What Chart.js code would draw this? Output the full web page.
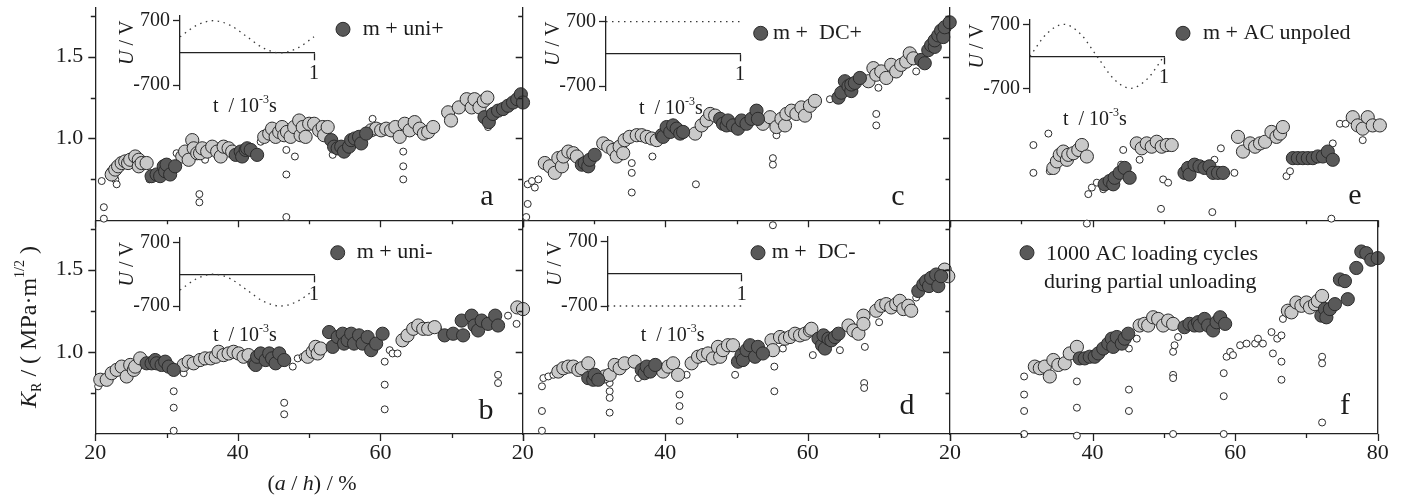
<!DOCTYPE html>
<html><head><meta charset="utf-8">
<script src="https://cdn.jsdelivr.net/npm/chart.js@4.4.1/dist/chart.umd.min.js"></script>
<style>
html,body{margin:0;padding:0;background:#fff;width:1404px;height:498px;overflow:hidden;position:relative;}
canvas{position:absolute;}
</style></head><body>
<script>
// ---------------- DATA (a/h in %, K_R in MPa·m^1/2) ----------------
const aOpen=[[20.9,0.74],[21.2,0.58],[21.2,0.51],[22.1,0.80],[22.8,0.75],[23.0,0.72],[27.6,0.75],[31.4,0.91],[34.6,0.66],[34.6,0.61],[35.4,0.87],[43.2,0.98],[46.8,0.93],[48.0,0.89],[46.8,0.78],[46.8,0.52],[53.3,0.90],[58.9,1.12],[63.2,0.92],[63.2,0.83],[63.2,0.75],[75.1,1.07]];
const aLight=[[22.3,0.78],[22.8,0.81],[23.2,0.83],[23.7,0.85],[24.2,0.86],[24.6,0.85],[24.9,0.87],[25.6,0.89],[26.1,0.87],[26.1,0.83],[26.5,0.85],[27.2,0.85],
[32.2,0.89],[32.6,0.92],[33.1,0.87],[33.6,0.99],[33.8,0.94],[34.3,0.91],[34.7,0.91],[35.0,0.94],[35.7,0.92],[36.4,0.95],[37.1,0.92],[37.6,0.89],[38.0,0.95],[38.7,0.94],[39.2,0.92],
[43.7,1.01],[44.4,1.03],[44.8,1.06],[45.3,1.01],[45.8,1.04],[46.2,1.07],[46.5,1.02],[46.9,1.04],[47.4,1.01],[47.9,1.07],[48.6,1.11],[48.8,1.02],[49.1,1.07],[49.5,1.01],[50.0,1.09],[50.7,1.09],[51.4,1.05],[51.9,1.07],[52.1,1.02],[52.6,1.07],
[58.7,1.05],[59.4,1.06],[60.1,1.05],[60.8,1.06],[61.5,1.05],[62.1,1.07],[62.7,1.01],[63.4,1.09],[64.1,1.05],[64.8,1.10],[65.5,1.06],[66.1,1.03],[66.7,1.04],[67.4,1.07],
[69.5,1.16],[69.9,1.11],[71.0,1.19],[72.1,1.24],[72.8,1.19],[73.2,1.24],[73.9,1.19],[74.5,1.23],[75.0,1.25]];
const aDark=[[27.9,0.77],[28.6,0.78],[29.1,0.77],[29.6,0.83],[29.8,0.80],[30.0,0.84],[30.5,0.78],[31.2,0.83],
[39.7,0.90],[40.4,0.92],[40.6,0.89],[41.1,0.93],[41.3,0.94],[41.8,0.93],[42.7,0.90],
[53.1,0.99],[53.5,0.95],[54.0,0.94],[54.5,0.95],[54.9,0.92],[55.6,0.95],[55.9,0.99],[56.4,1.00],[57.0,1.01],[57.3,0.97],[58.0,1.03],
[74.6,1.13],[75.2,1.10],[75.8,1.15],[76.5,1.17],[77.2,1.18],[77.9,1.20],[78.6,1.22],[79.2,1.24],[79.7,1.27],[80.0,1.22]];

const bOpen=[[20.4,0.79],[31.0,0.76],[31.0,0.66],[31.0,0.52],[32.4,0.87],[46.5,0.69],[46.5,0.62],[47.7,0.91],[48.4,0.96],[49.1,0.97],[60.6,0.94],[60.6,0.80],[60.6,0.65],[61.3,1.01],[61.7,0.99],[62.4,0.99],[68.1,1.14],[76.5,0.86],[76.5,0.81],[77.9,1.22],[79.1,1.17]];
const bLight=[[20.7,0.83],[21.6,0.83],[22.3,0.87],[23.0,0.89],[23.7,0.91],[24.4,0.85],[24.9,0.92],[25.4,0.89],[25.6,0.91],[26.3,0.96],
[32.4,0.92],[33.1,0.94],[33.8,0.93],[34.7,0.95],[35.4,0.96],[36.2,0.96],[36.9,0.97],[37.3,1.00],[38.0,0.98],[38.7,0.99],[39.4,1.00],[40.1,0.99],[40.8,0.97],[41.5,0.98],
[49.8,0.97],[50.5,1.00],[50.9,1.03],[51.2,0.99],[51.6,1.02],
[63.1,1.07],[63.8,1.10],[64.6,1.14],[65.3,1.16],[66.0,1.14],[66.7,1.14],[67.6,1.15],
[79.2,1.27],[80.0,1.26]];
const bDark=[[27.2,0.93],[27.9,0.93],[28.4,0.95],[28.6,0.93],[29.3,0.92],[29.8,0.94],[30.3,0.91],[31.0,0.89],
[42.3,0.93],[42.5,0.92],[42.7,0.97],[43.2,0.99],[43.9,0.95],[44.4,0.99],[44.8,0.96],[45.3,0.93],[45.8,0.99],[46.5,0.95],
[52.8,1.12],[53.3,1.03],[54.0,1.09],[54.7,1.11],[54.9,1.05],[55.4,1.07],[55.9,1.11],[56.3,1.05],[57.0,1.10],[57.5,1.05],[58.2,1.09],[58.7,1.01],[59.4,1.05],[60.3,1.11],
[69.0,1.10],[70.2,1.11],[71.4,1.19],[71.6,1.10],[72.8,1.22],[73.2,1.16],[73.7,1.13],[74.2,1.19],[75.1,1.17],[76.1,1.22],[76.5,1.16]];

const cOpen=[[20.7,0.72],[20.7,0.60],[20.5,0.52],[21.3,0.74],[21.7,0.70],[22.2,0.75],[35.3,0.85],[35.3,0.79],[35.3,0.67],[38.2,0.89],[44.3,0.72],[55.1,0.88],[55.1,0.84],[55.6,1.02],[63.1,1.24],[69.6,1.15],[69.6,1.08],[69.9,1.31],[75.2,1.41]];
const cLight=[[23.1,0.85],[23.8,0.83],[24.5,0.79],[25.0,0.88],[25.5,0.83],[25.7,0.89],[26.4,0.92],[27.1,0.91],[27.6,0.89],
[31.3,0.97],[32.0,0.95],[32.7,0.93],[33.2,0.89],[33.6,0.95],[34.1,0.91],[34.3,0.99],[35.0,1.01],[36.0,1.02],[36.7,1.02],[37.4,1.01],[38.1,1.00],[38.8,0.99],
[44.2,1.03],[45.1,1.08],[45.8,1.11],[46.3,1.15],[47.0,1.14],
[53.7,1.09],[54.7,1.13],[55.6,1.07],[56.3,1.12],[56.8,1.08],[57.0,1.15],[57.7,1.17],[58.4,1.15],[59.1,1.19],[59.6,1.14],[60.3,1.20],[61.0,1.23],
[68.5,1.35],[69.2,1.43],[69.6,1.39],[70.3,1.41],[71.0,1.37],[71.7,1.45],[72.4,1.41],[73.1,1.45],[73.8,1.47],[74.3,1.52],[74.8,1.49]];
const cDark=[[28.3,0.84],[28.7,0.85],[29.2,0.83],[29.4,0.87],[30.1,0.90],
[39.5,1.02],[39.7,1.01],[40.2,1.07],[40.7,1.04],[41.1,1.08],[41.6,1.06],[42.1,1.03],[42.5,1.04],
[47.7,1.12],[48.1,1.09],[48.6,1.08],[48.8,1.11],[49.5,1.08],[50.2,1.06],[50.7,1.11],[51.4,1.09],[52.1,1.12],[52.8,1.17],[53.0,1.12],
[64.3,1.25],[64.7,1.28],[65.2,1.35],[65.7,1.32],[66.1,1.29],[66.1,1.33],[66.6,1.34],[67.3,1.37],
[75.9,1.48],[76.4,1.46],[76.9,1.54],[77.3,1.57],[77.8,1.56],[77.8,1.60],[78.3,1.63],[78.7,1.66],[79.0,1.62],[79.2,1.68],[79.9,1.71]];

const dOpen=[[22.7,0.79],[22.7,0.64],[22.7,0.52],[22.9,0.84],[23.6,0.85],[24.3,0.86],[32.2,0.81],[32.2,0.76],[32.2,0.72],[32.2,0.63],[36.2,0.84],[42.0,0.74],[42.0,0.67],[42.0,0.58],[43.0,0.86],[49.8,0.86],[55.1,1.77],[55.3,0.91],[55.3,0.76],[56.5,1.02],[60.7,0.98],[64.5,1.01],[68.0,1.03],[67.9,0.81],[67.9,0.78],[70.0,1.18],[75.2,1.33]];
const dLight=[[25.0,0.88],[25.7,0.90],[26.4,0.91],[27.1,0.91],[27.8,0.89],[28.3,0.90],[29.2,0.93],
[31.5,0.85],[32.2,0.86],[32.9,0.92],[33.6,0.90],[34.3,0.93],[35.7,0.94],
[39.7,0.88],[40.4,0.91],[41.1,0.93],[41.8,0.86],[43.7,0.93],[44.6,0.97],[45.3,0.98],[46.0,0.99],[46.7,0.96],[47.4,1.03],[47.7,0.97],[48.1,1.01],[48.8,1.04],[49.5,1.04],
[54.9,1.07],[55.1,1.01],[56.1,1.09],[56.8,1.08],[57.5,1.09],[58.2,1.11],[58.9,1.10],[59.6,1.11],[60.3,1.13],[60.5,1.14],
[65.7,1.16],[66.4,1.13],[67.1,1.11],[67.8,1.22],[67.8,1.17],[69.6,1.25],[70.3,1.28],[71.0,1.29],[71.7,1.27],[72.4,1.29],[72.9,1.31],[73.4,1.26],[74.1,1.28],[74.5,1.25],
[79.2,1.50],[79.7,1.46]];
const dDark=[[29.2,0.84],[29.9,0.83],[30.1,0.86],[30.6,0.83],
[36.7,0.89],[37.1,0.87],[37.4,0.91],[37.9,0.88],[38.6,0.92],
[50.2,0.94],[50.7,0.98],[50.9,0.95],[51.4,1.01],[51.9,1.04],[52.6,0.97],[53.0,1.03],[53.7,0.99],
[61.5,1.08],[62.0,1.04],[62.2,1.10],[62.4,1.02],[62.9,1.08],[63.3,1.07],[63.8,1.09],[64.3,1.11],
[75.5,1.37],[76.2,1.41],[76.6,1.43],[77.0,1.40],[77.3,1.45],[78.0,1.47],[78.3,1.40],[78.7,1.46]];

const eOpen=[[31.7,0.96],[31.7,0.79],[33.8,1.03],[34.0,0.80],[39.4,0.66],[39.9,0.70],[40.6,0.73],[41.5,0.69],[44.0,0.84],[44.3,0.93],[46.6,0.87],[49.6,0.57],[49.9,0.75],[50.6,0.73],[56.8,0.55],[57.1,0.87],[58.0,0.94],[59.9,0.79],[67.2,0.77],[67.7,0.80],[73.5,0.51],[73.7,0.97],[74.7,1.09],[75.5,1.09],[77.9,0.99]];
const eLight=[[34.5,0.82],[35.0,0.86],[35.4,0.90],[35.9,0.92],[36.4,0.87],[36.6,0.90],[37.3,0.91],[38.0,0.93],[38.5,0.96],[39.2,0.89],
[46.2,0.97],[46.9,0.94],[47.6,0.97],[48.3,0.95],[49.0,0.98],[49.7,0.95],[50.4,0.96],[51.1,0.96],
[60.4,1.01],[61.1,0.92],[62.1,0.97],[62.8,0.95],[63.5,0.97],[64.2,0.98],[65.1,1.04],[65.8,1.01],[66.3,1.03],[66.7,1.07],
[76.5,1.13],[77.2,1.08],[77.9,1.06],[78.6,1.13],[79.3,1.08],[80.3,1.08]];
const eDark=[[41.7,0.72],[42.4,0.74],[42.9,0.72],[43.1,0.76],[43.8,0.79],[44.5,0.82],[45.2,0.76],
[52.9,0.79],[53.4,0.82],[53.6,0.78],[54.3,0.84],[55.0,0.83],[55.7,0.82],[56.4,0.83],[56.9,0.79],[57.6,0.79],[58.3,0.79],
[68.1,0.88],[68.8,0.88],[69.5,0.88],[70.2,0.88],[70.9,0.88],[71.6,0.89],[72.3,0.89],[73.0,0.92],[73.7,0.87]];

const fOpen=[[30.4,0.85],[30.4,0.74],[30.4,0.64],[30.4,0.50],[37.8,0.82],[37.8,0.66],[37.8,0.49],[39.2,1.78],[45.1,0.77],[45.1,0.64],[45.1,1.02],[46.2,1.08],[51.3,1.00],[51.3,0.86],[51.3,0.84],[51.3,0.50],[51.5,1.04],[52.0,1.09],[58.4,0.87],[58.4,0.73],[58.4,0.50],[58.8,0.97],[59.3,1.00],[59.7,0.98],[60.7,1.04],[61.6,1.05],[62.8,1.05],[63.2,1.08],[63.9,1.05],[65.1,1.12],[65.3,0.99],[65.9,1.08],[66.5,1.10],[66.5,0.94],[66.5,0.83],[66.7,1.20],[72.2,0.97],[72.2,0.93],[72.2,0.57]];
const fLight=[[31.9,0.91],[32.6,0.90],[33.3,0.91],[34.0,0.85],[34.5,0.95],[35.2,0.92],[36.1,0.93],[36.8,0.99],[37.8,1.03],
[46.6,1.16],[47.3,1.17],[47.8,1.16],[48.5,1.21],[49.2,1.20],[49.9,1.16],[50.6,1.19],[51.3,1.17],
[67.4,1.25],[67.9,1.24],[68.6,1.30],[69.3,1.28],[70.0,1.30],[70.5,1.27],[71.2,1.29],[71.6,1.31],[72.2,1.34]];
const fDark=[[38.2,0.96],[38.9,0.96],[39.6,0.97],[40.3,0.97],[40.8,0.99],[41.5,1.02],[42.2,1.05],[42.7,1.08],[42.9,1.03],[43.4,1.09],[44.1,1.05],[44.5,1.08],[45.0,1.11],
[52.9,1.15],[53.6,1.17],[54.3,1.16],[54.8,1.18],[55.0,1.16],[55.7,1.20],[56.2,1.16],[56.9,1.13],[57.4,1.18],[57.9,1.21],[58.6,1.17],
[72.1,1.22],[72.6,1.26],[72.8,1.21],[73.3,1.26],[74.0,1.29],[74.7,1.44],[75.4,1.43],[75.8,1.32],[77.0,1.51],[77.7,1.61],[78.4,1.60],[79.1,1.56],[80.0,1.57]];

// inset waveforms (t in 10^-3 s, U in V)
const waveT=[0,0.125,0.25,0.375,0.5,0.625,0.75,0.875,1];
const uniPlusU=[350,600,700,600,350,100,0,100,350];
const uniMinusU=[-350,-100,0,-100,-350,-600,-700,-600,-350];
const acU=[0,495,700,495,0,-495,-700,-495,0];
const dcT=[0,1];
const dcPlusU=[700,700];
const dcMinusU=[-700,-700];

const xTickVals=[20,30,40,50,60,70,80];
const yTickVals=[0.75,1.0,1.25,1.5,1.75];
const yLabelVals=[1.0,1.5];
const insetTickVals=[-700,700];

// ---------------- STYLE / LAYOUT ----------------
const FONT='"Liberation Serif","Times New Roman",serif';
const AX='#222', TXT='#1c1c1c';
const C_LIGHT='#c9c9c9', C_DARK='#595959', C_EDGE='#2b2b2b';
const COLS=[95.3,522.7,950.0], PW=427.7;
const ROWS=[6.6,220.3], PH=213.7;

function mkCanvas(x,y,w,h){
  const c=document.createElement('canvas');
  c.width=w;c.height=h;
  c.style.left=x+'px';c.style.top=y+'px';c.style.width=w+'px';c.style.height=h+'px';
  document.body.appendChild(c);return c;
}
function rich(ctx,segs,x,y,align){
  let total=0;
  const ws=segs.map(s=>{ctx.font=(s[2]?'italic ':'')+s[1]+'px '+FONT;const w=ctx.measureText(s[0]).width;total+=w;return w;});
  let cur=align==='center'?x-total/2:(align==='right'?x-total:x);
  ctx.textAlign='left';ctx.textBaseline='alphabetic';
  segs.forEach((s,i)=>{ctx.font=(s[2]?'italic ':'')+s[1]+'px '+FONT;ctx.fillText(s[0],cur,y+(s[3]||0));cur+=ws[i];});
}
const pts=a=>a.map(p=>({x:p[0],y:p[1]}));

function panel(cfg){
  const L=COLS[cfg.col],T=ROWS[cfg.row];
  const cx=cfg.col===0?0:Math.floor(L)-30;
  const cy=cfg.row===0?0:Math.floor(T)-30;
  const ml=L-cx, mt=T-cy;
  const cw=Math.ceil(L+PW+25)-cx;
  const ch=cfg.row===0?Math.ceil(T+PH+30)-cy:498-cy;
  const mr=cw-ml-PW, mb=ch-mt-PH;
  const cv=mkCanvas(cx,cy,cw,ch);
  const deco={id:'deco'+cfg.letter,afterDraw(chart){
    const ctx=chart.ctx,a=chart.chartArea,xs=chart.scales.x,ys=chart.scales.y;
    ctx.save();
    ctx.strokeStyle=AX;ctx.lineWidth=1.3;ctx.beginPath();
    xTickVals.forEach(v=>{const p=Math.round(xs.getPixelForValue(v))+0.5;const len=v%20===0?7:4;ctx.moveTo(p,a.bottom);ctx.lineTo(p,a.bottom+len);});
    yTickVals.forEach(v=>{const p=Math.round(ys.getPixelForValue(v))+0.5;const len=(v===1||v===1.5)?7:4.5;ctx.moveTo(a.left-len,p);ctx.lineTo(a.left,p);});
    if(cfg.rightBorder){ctx.moveTo(a.right,a.top);ctx.lineTo(a.right,a.bottom);}
    ctx.stroke();
    ctx.translate(-cx,-cy);
    ctx.fillStyle=TXT;
    ctx.font='30px '+FONT;ctx.textAlign='center';ctx.textBaseline='alphabetic';
    ctx.fillText(cfg.letter,cfg.letterPos[0],cfg.letterPos[1]);
    // legend
    ctx.beginPath();ctx.arc(cfg.leg[0],cfg.leg[1],7,0,Math.PI*2);ctx.fillStyle=C_DARK;ctx.fill();ctx.lineWidth=1;ctx.strokeStyle=C_EDGE;ctx.stroke();
    ctx.fillStyle=TXT;ctx.font='22px '+FONT;ctx.textAlign='left';
    cfg.legText.forEach((t,i)=>ctx.fillText(t[0],t[1],t[2]));
    if(cfg.axisTitles){
      ctx.save();ctx.translate(36,327);ctx.rotate(-Math.PI/2);
      rich(ctx,[['K',24,true],['R',14,false,5],[' / ( MPa·m',24],['1/2',14,false,-12],[' )',24]],0,0,'center');
      ctx.restore();
      rich(ctx,[['(',22],['a',22,true],[' / ',22],['h',22,true],[') / %',22]],312,490,'center');
    }
    ctx.restore();
  }};
  const ds=(d,r,bg,ord)=>({data:pts(d),pointRadius:r,pointHoverRadius:r,pointBackgroundColor:bg,pointBorderColor:C_EDGE,pointBorderWidth:1,showLine:false,order:ord,clip:false});
  new Chart(cv,{type:'scatter',
    data:{datasets:[ds(cfg.dark,6.6,C_DARK,0),ds(cfg.light,6.6,C_LIGHT,1),ds(cfg.open,3.5,'#ffffff',2)]},
    options:{responsive:false,animation:false,devicePixelRatio:1,events:[],
      layout:{padding:{left:0,right:mr,top:mt,bottom:0}},
      plugins:{legend:{display:false},tooltip:{enabled:false}},
      scales:{
        x:{type:'linear',min:20,max:80,position:'bottom',
          afterFit:s=>{s.height=mb;s.paddingLeft=0;s.paddingRight=0;},
          afterBuildTicks:s=>{s.ticks=(cfg.xLabels||[]).map(v=>({value:v}));},
          grid:{display:true,drawOnChartArea:false,drawTicks:false},
          border:{display:true,color:AX,width:1.3},
          ticks:{display:!!cfg.xLabels,padding:6,autoSkip:false,maxRotation:0,color:TXT,font:{family:FONT,size:22},callback:v=>String(v)}},
        y:{type:'linear',min:0.5,max:1.8,position:'left',
          afterFit:s=>{s.width=ml;s.paddingTop=0;s.paddingBottom=0;},
          afterBuildTicks:s=>{s.ticks=yLabelVals.map(v=>({value:v}));},
          grid:{display:true,drawOnChartArea:false,drawTicks:false},
          border:{display:true,color:AX,width:1.3},
          ticks:{display:cfg.col===0,padding:12,color:TXT,font:{family:FONT,size:22},callback:v=>Number(v).toFixed(1)}}
      }},
    plugins:[deco]});
}

function inset(o){
  const pxV=(o.yb-o.ya)/1400;
  const top=o.ya-100*pxV, bot=o.yb+100*pxV;
  const cx=Math.floor(o.x0)-75, cy=Math.max(0,Math.floor(top)-10);
  const ml=o.x0-cx, mt=top-cy;
  const cw=Math.ceil(o.x1+15)-cx, ch=Math.ceil(bot+45)-cy;
  const mr=cw-ml-(o.x1-o.x0), mb=ch-mt-(bot-top);
  const cv=mkCanvas(cx,cy,cw,ch);
  const deco={id:'ideco',afterDraw(chart){
    const ctx=chart.ctx;ctx.save();ctx.translate(-cx,-cy);ctx.fillStyle=TXT;
    ctx.save();ctx.translate(o.x0-47,o.ya+22);ctx.rotate(-Math.PI/2);
    rich(ctx,[['U',20,true],[' / V',20]],0,0,'center');ctx.restore();
    rich(ctx,[['t  / 10',20],['-3',12,false,-9],['s',20]],o.x0+33,o.yb+o.tdy,'left');
    ctx.restore();
  }};
  new Chart(cv,{type:'line',
    data:{datasets:[{data:o.T.map((t,i)=>({x:t,y:o.U[i]})),borderColor:'#3a3a3a',borderWidth:1.3,borderDash:[1.5,4.5],pointRadius:0,cubicInterpolationMode:'monotone',fill:false,clip:false}]},
    options:{responsive:false,animation:false,devicePixelRatio:1,events:[],
      layout:{padding:{left:0,right:mr,top:mt,bottom:mb}},
      plugins:{legend:{display:false},tooltip:{enabled:false}},
      scales:{
        x:{type:'linear',min:0,max:1,position:{y:0},
          afterFit:s=>{s.paddingLeft=0;s.paddingRight=0;},
          afterBuildTicks:s=>{s.ticks=[{value:1}];},
          grid:{drawOnChartArea:false,drawTicks:true,tickLength:7,color:AX,tickWidth:1.3},
          border:{display:true,color:AX,width:1.3},
          ticks:{padding:2,color:TXT,font:{family:FONT,size:20},callback:()=> '1'}},
        y:{type:'linear',min:-800,max:800,position:'left',
          afterFit:s=>{s.width=ml;s.paddingTop=0;s.paddingBottom=0;},
          afterBuildTicks:s=>{s.ticks=insetTickVals.map(v=>({value:v}));},
          grid:{drawOnChartArea:false,drawTicks:true,tickLength:7,color:AX,tickWidth:1.3},
          border:{display:true,color:AX,width:1.3},
          ticks:{padding:3,color:TXT,font:{family:FONT,size:20},callback:v=>String(v)}}
      }},
    plugins:[deco]});
}

panel({col:0,row:0,letter:'a',letterPos:[487,205],open:aOpen,light:aLight,dark:aDark,leg:[343,29.3],legText:[['m + uni+',362.7,35]]});
panel({col:0,row:1,letter:'b',letterPos:[486,419],open:bOpen,light:bLight,dark:bDark,leg:[337.7,252.7],legText:[['m + uni-',356.7,258]],xLabels:[20,40,60],axisTitles:true});
panel({col:1,row:0,letter:'c',letterPos:[898,205],open:cOpen,light:cLight,dark:cDark,leg:[760.7,33.3],legText:[['m +  DC+',773,39]]});
panel({col:1,row:1,letter:'d',letterPos:[907,414],open:dOpen,light:dLight,dark:dDark,leg:[758,252.7],legText:[['m +  DC-',771.7,258]],xLabels:[20,40,60]});
panel({col:2,row:0,letter:'e',letterPos:[1355,204],open:eOpen,light:eLight,dark:eDark,leg:[1183,33.3],legText:[['m + AC unpoled',1203,39]]});
panel({col:2,row:1,letter:'f',letterPos:[1345,414],open:fOpen,light:fLight,dark:fDark,leg:[1027,252.7],legText:[['1000 AC loading cycles',1046,260],['during partial unloading',1044,288]],xLabels:[20,40,60,80],rightBorder:true});

inset({x0:180,x1:314,ya:20.7,yb:85,T:waveT,U:uniPlusU,tdy:27});
inset({x0:180,x1:314,ya:242.3,yb:306,T:waveT,U:uniMinusU,tdy:34.5});
inset({x0:606,x1:740,ya:21.7,yb:86,T:dcT,U:dcPlusU,tdy:28});
inset({x0:607.7,x1:741.7,ya:241.7,yb:306,T:dcT,U:dcMinusU,tdy:35});
inset({x0:1030,x1:1164,ya:24.3,yb:88.3,T:waveT,U:acU,tdy:36.7});
</script>
</body></html>
